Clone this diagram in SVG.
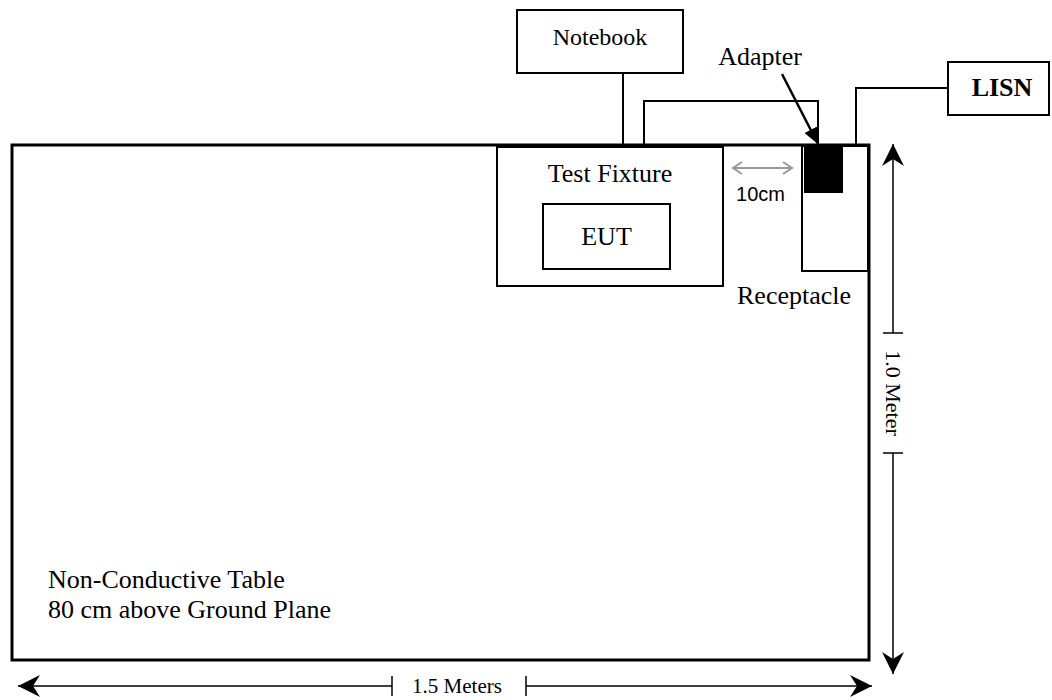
<svg xmlns="http://www.w3.org/2000/svg" width="1052" height="700" viewBox="0 0 1052 700">
<style>
.t{font-family:"Liberation Serif","Times New Roman",serif;fill:#000}
.s{font-family:"Liberation Sans",Arial,sans-serif;fill:#000}
.box{fill:#fff;stroke:#000;stroke-width:2}
.ln{fill:none;stroke:#000;stroke-width:2}
.dim{fill:none;stroke:#000;stroke-width:1.5}
</style>
<defs>
<marker id="barb" markerUnits="userSpaceOnUse" markerWidth="24" markerHeight="24" refX="22" refY="12" orient="auto-start-reverse" viewBox="0 0 24 24">
<path d="M22,12 L0,1 L7,12 L0,23 Z" fill="#000"/>
</marker>
<marker id="tri" markerUnits="userSpaceOnUse" markerWidth="18" markerHeight="14" refX="16" refY="7" orient="auto" viewBox="0 0 18 14">
<path d="M16,7 L0,0 L0,14 Z" fill="#000"/>
</marker>
<marker id="chev" markerUnits="userSpaceOnUse" markerWidth="12" markerHeight="14" refX="10" refY="7" orient="auto-start-reverse" viewBox="0 0 12 14">
<path d="M1,1 L10,7 L1,13" fill="none" stroke="#999" stroke-width="2"/>
</marker>
</defs>
<g id="table">
<rect x="12" y="145" width="857" height="515" fill="#fff" stroke="#000" stroke-width="3"/>
<text class="t" x="48" y="588" font-size="26">Non-Conductive Table</text>
<text class="t" x="48" y="618" font-size="26">80 cm above Ground Plane</text>
</g>
<g id="connectors">
<line class="ln" x1="623" y1="73" x2="623" y2="147" stroke-width="1.5"/>
<polyline class="ln" points="644,147 644,101 818,101 818,147"/>
<polyline class="ln" points="856,147 856,88 948,88" stroke-width="3.5"/>
<line x1="782" y1="74" x2="818" y2="144" stroke="#000" stroke-width="2.5" marker-end="url(#tri)"/>
<line x1="733" y1="168" x2="792" y2="168" stroke="#999" stroke-width="2" marker-start="url(#chev)" marker-end="url(#chev)"/>
</g>
<g id="notebook">
<rect class="box" x="517" y="10" width="166" height="63" stroke-width="1.5"/>
<text class="t" x="600" y="45" font-size="24" text-anchor="middle">Notebook</text>
</g>
<g id="lisn">
<rect class="box" x="948" y="62" width="101" height="53"/>
<text class="t" x="1002" y="96" font-size="26" font-weight="bold" text-anchor="middle">LISN</text>
</g>
<g id="test-fixture">
<rect class="box" x="497" y="147" width="226" height="139" stroke-width="1.5"/>
<text class="t" x="610" y="182" font-size="26" text-anchor="middle">Test Fixture</text>
</g>
<g id="eut">
<rect class="box" x="543" y="204" width="127" height="65" stroke-width="1.5"/>
<text class="t" x="606.5" y="245" font-size="26" text-anchor="middle">EUT</text>
</g>
<g id="receptacle">
<rect class="box" x="802" y="146" width="66" height="125" stroke-width="1.5"/>
<text class="t" x="737" y="304" font-size="26">Receptacle</text>
</g>
<g id="adapter">
<rect x="804" y="147" width="39" height="46" fill="#000"/>
<text class="t" x="760" y="65" font-size="26" text-anchor="middle">Adapter</text>
</g>
<g id="label-10cm">
<text class="s" x="760.5" y="201" font-size="20" text-anchor="middle">10cm</text>
</g>
<g id="dim-width">
<line class="dim" x1="18" y1="686" x2="392" y2="686" marker-start="url(#barb)"/>
<line class="dim" x1="392" y1="676" x2="392" y2="696"/>
<line class="dim" x1="526" y1="686" x2="872" y2="686" marker-end="url(#barb)"/>
<line class="dim" x1="526" y1="676" x2="526" y2="696"/>
<text class="t" x="457" y="693" font-size="21" text-anchor="middle">1.5 Meters</text>
</g>
<g id="dim-height">
<line class="dim" x1="893" y1="144" x2="893" y2="333" marker-start="url(#barb)"/>
<line class="dim" x1="883" y1="333" x2="903" y2="333"/>
<line class="dim" x1="893" y1="453" x2="893" y2="674" marker-end="url(#barb)"/>
<line class="dim" x1="883" y1="453" x2="903" y2="453"/>
<text class="t" transform="translate(886,393) rotate(90)" font-size="22" text-anchor="middle">1.0 Meter</text>
</g>
</svg>
